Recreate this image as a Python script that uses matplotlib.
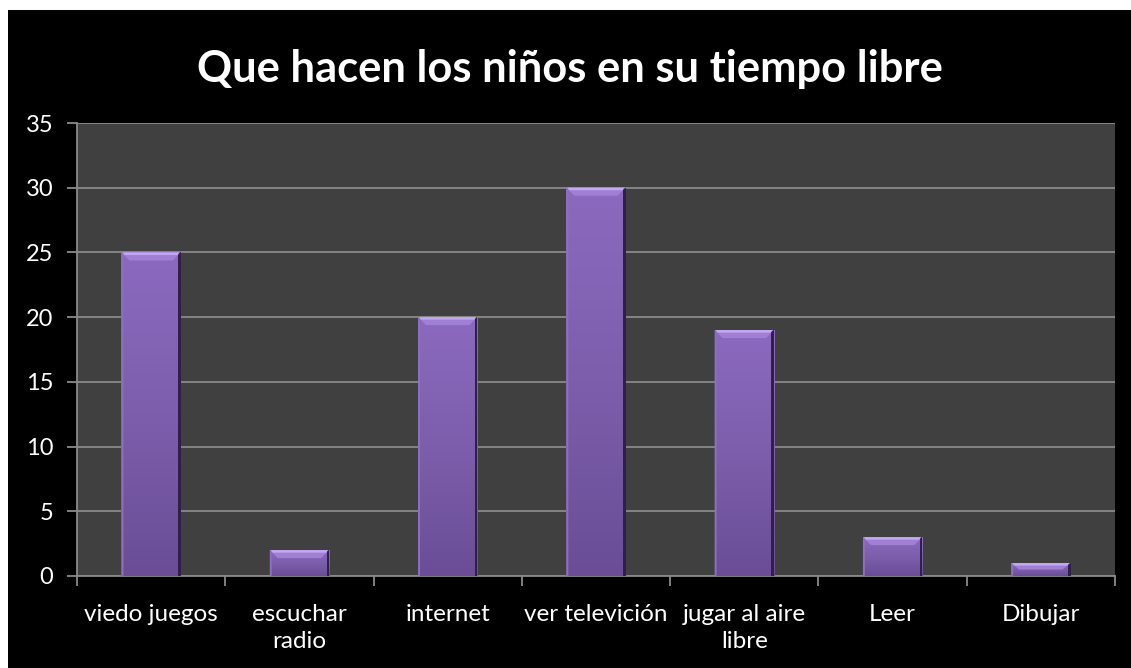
import matplotlib
matplotlib.use("Agg")
import matplotlib.pyplot as plt
from matplotlib.patches import Rectangle, Polygon
from matplotlib.colors import LinearSegmentedColormap
import numpy as np

categories = ["viedo juegos", "escuchar\nradio", "internet", "ver televición",
              "jugar al aire\nlibre", "Leer", "Dibujar"]
values = [25, 2, 20, 30, 19, 3, 1]
yticks = [0, 5, 10, 15, 20, 25, 30, 35]
title = "Que hacen los niños en su tiempo libre"

plt.rcParams['font.family'] = ['Lato', 'DejaVu Sans']

W, H = 1131, 668
fig = plt.figure(figsize=(W / 100, H / 100), dpi=100, facecolor="white")
fig.patches.append(Rectangle((8 / W, 0), 1 - 8 / W, 1 - 10 / H, transform=fig.transFigure,
                             facecolor="black", edgecolor="none", zorder=-10))

left, right, top, bottom = 77, 1115, 123, 576
ax = fig.add_axes([left / W, 1 - bottom / H, (right - left) / W, (bottom - top) / H])
ax.set_zorder(0)
ax.set_facecolor("#404040")

x = np.arange(len(categories))
bw = 0.4
bars = ax.bar(x, values, width=bw, color="#7e5fae", edgecolor="none", zorder=3)

cmap = LinearSegmentedColormap.from_list("bar", ["#6a4d96", "#7c5eac", "#8b6abf"])
grad = np.linspace(0, 1, 256).reshape(-1, 1)
for b in bars:
    im = ax.imshow(grad, cmap=cmap, origin="lower", aspect="auto", zorder=3.5,
                   extent=(b.get_x(), b.get_x() + b.get_width(), 0, b.get_height()),
                   interpolation="bilinear")
    im.set_clip_path(b)
ax.set_xlim(-0.5, len(categories) - 0.5)
ax.set_ylim(0, 35)

ax.set_yticks(yticks)
ax.set_yticklabels([str(t) for t in yticks], color="white", fontsize=17)
ax.yaxis.grid(True, color="#8a8a8a", linewidth=1.3, zorder=1)
ax.set_axisbelow(True)

ax.set_xticks(x)
ax.set_xticklabels(categories, color="white", fontsize=17.5, linespacing=1.38)
ax.set_xticks(np.arange(len(categories) + 1) - 0.5, minor=True)
ax.tick_params(axis="x", which="major", length=0, pad=20)
ax.tick_params(axis="x", which="minor", length=7, color="#8a8a8a", width=1.3)
ax.tick_params(axis="y", length=7, color="#8a8a8a", width=1.3, pad=10)

for s in ["top", "right"]:
    ax.spines[s].set_visible(False)
for s in ["left", "bottom"]:
    ax.spines[s].set_color("#8a8a8a")
    ax.spines[s].set_linewidth(1.3)

fig.canvas.draw()
# bevel effect on each bar (computed from the bar geometry in display space)
inv = fig.transFigure.inverted()
for b in bars:
    x0, y0 = ax.transData.transform((b.get_x(), 0))
    x1, y1 = ax.transData.transform((b.get_x() + b.get_width(), b.get_height()))
    d = min(8, (y1 - y0) / 2)
    e = 8
    def P(pts):
        return [inv.transform(p) for p in pts]
    fig.patches.append(Polygon(P([(x0, y1), (x1, y1), (x1 - e, y1 - d), (x0 + e, y1 - d)]),
                               closed=True, transform=fig.transFigure,
                               facecolor="#9f80d4", edgecolor="none", zorder=4))
    fig.patches.append(Polygon(P([(x1, y1), (x1, y0), (x1 - 2.5, y0), (x1 - 2.5, y1 - 1)]),
                               closed=True, transform=fig.transFigure,
                               facecolor="#2e2048", edgecolor="none", zorder=4))
    fig.patches.append(Polygon(P([(x0, y1), (x0 + 2, y1 - 2), (x0 + 2, y0), (x0, y0)]),
                               closed=True, transform=fig.transFigure,
                               facecolor="#8c6fbd", edgecolor="none", zorder=4))
    fig.patches.append(Polygon(P([(x0 + 1, y1), (x1 - 1, y1), (x1 - 3, y1 - 2.5), (x0 + 3, y1 - 2.5)]),
                               closed=True, transform=fig.transFigure,
                               facecolor="#c3a8f2", edgecolor="none", zorder=5))

fig.text(0.5 + 4 / W, 1 - 69 / H, title, color="white", fontsize=31.3, fontweight="bold",
         ha="center", va="center")

fig.savefig("out.png", dpi=100, facecolor=fig.get_facecolor())
